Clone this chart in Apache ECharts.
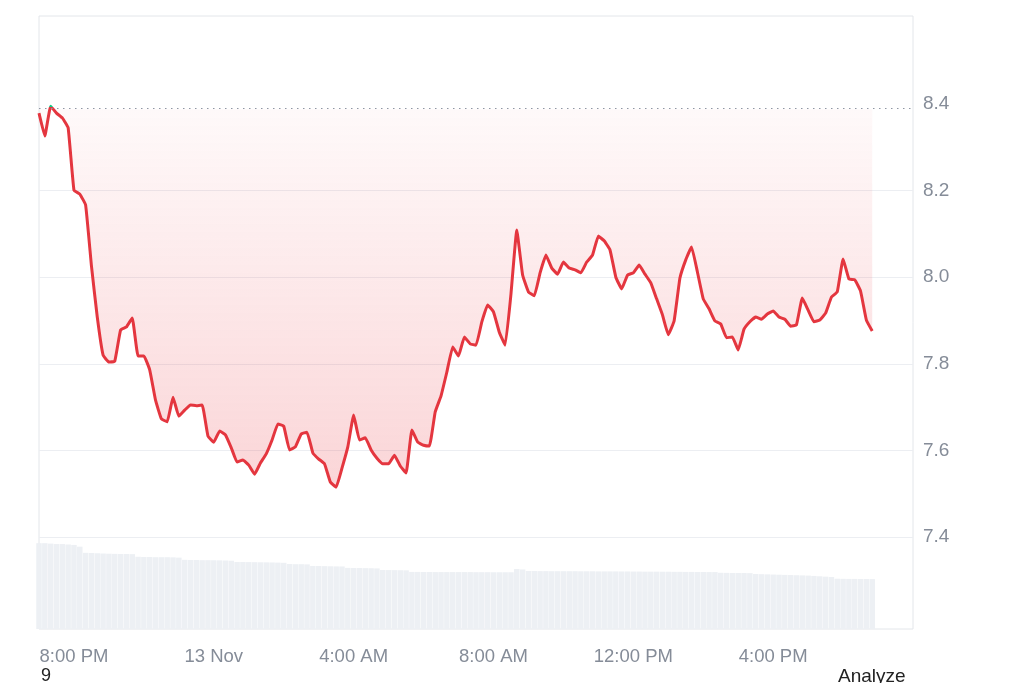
<!DOCTYPE html>
<html>
<head>
<meta charset="utf-8">
<title>Price chart</title>
<script src="https://cdn.jsdelivr.net/npm/echarts@6.0.0/dist/echarts.min.js"></script>
<style>
  html, body { margin: 0; padding: 0; background: #fff; }
  #chart { width: 1024px; height: 683px; }
</style>
</head>
<body>
<div id="chart"></div>
<script>
// 10 minute slots, 12 Nov 7:00 PM -> 13 Nov 8:00 PM
const startMinute = 19 * 60;
const stepMinutes = 10;
const slotCount = 151;

const categories = [];
for (let i = 0; i < slotCount; i++) {
  const m = startMinute + i * stepMinutes;
  const day = 12 + Math.floor(m / 1440);
  const hh = Math.floor((m % 1440) / 60);
  const mm = m % 60;
  categories.push(day + " Nov " + String(hh).padStart(2, "0") + ":" + String(mm).padStart(2, "0"));
}

const openPrice = 8.388;

const price = [
  8.379, 8.326, 8.395, 8.379, 8.368, 8.345, 8.201, 8.192, 8.167, 8.026,
  7.908, 7.820, 7.804, 7.806, 7.878, 7.885, 7.906, 7.818, 7.818, 7.786,
  7.716, 7.673, 7.666, 7.723, 7.679, 7.693, 7.705, 7.703, 7.705, 7.633,
  7.619, 7.645, 7.636, 7.606, 7.573, 7.578, 7.566, 7.545, 7.571, 7.592,
  7.624, 7.661, 7.656, 7.601, 7.608, 7.638, 7.642, 7.594, 7.580, 7.569,
  7.527, 7.515, 7.559, 7.608, 7.682, 7.624, 7.629, 7.601, 7.582, 7.569,
  7.569, 7.589, 7.564, 7.548, 7.647, 7.619, 7.612, 7.610, 7.689, 7.726,
  7.781, 7.839, 7.818, 7.862, 7.846, 7.843, 7.897, 7.936, 7.920, 7.873,
  7.843, 7.961, 8.109, 8.005, 7.966, 7.957, 8.010, 8.051, 8.021, 8.007,
  8.035, 8.021, 8.017, 8.010, 8.035, 8.051, 8.095, 8.084, 8.063, 8.000,
  7.973, 8.005, 8.010, 8.028, 8.007, 7.987, 7.950, 7.913, 7.867, 7.899,
  7.998, 8.040, 8.070, 8.012, 7.950, 7.927, 7.899, 7.892, 7.860, 7.862,
  7.832, 7.880, 7.897, 7.908, 7.903, 7.915, 7.922, 7.908, 7.903, 7.887,
  7.890, 7.952, 7.924, 7.897, 7.901, 7.917, 7.954, 7.966, 8.042, 7.996,
  7.994, 7.968, 7.901, 7.876
];

const volume = [
  98, 98, 97.5, 97, 97, 96.5, 96, 94, 87,
  86.8, 86.5, 86.2, 86, 85.8, 85.6, 85.6, 85.5,
  82.5, 82.2, 82.2, 82, 82, 82, 81.8, 81.5,
  79, 78.8, 78.8, 78.6, 78.6, 78.5, 78.4, 78.2, 78,
  76.5, 76.5, 76.4, 76.3, 76.2, 76.1, 76, 75.8, 75.6,
  74.2, 74, 74, 73.8,
  72, 71.9, 71.8, 71.6, 71.5, 71.4,
  69.8, 69.7, 69.6, 69.5, 69.4, 69.2,
  67.4, 67.3, 67.2, 67.1, 67,
  65.2, 65.2, 65.1, 65.1, 65, 65, 65, 65, 65, 65, 65, 64.9, 64.9, 64.9, 64.8, 64.8, 64.8, 64.8,
  68.5, 68,
  66.2, 66.2, 66.1, 66.1, 66, 66, 66, 66, 66, 65.9, 65.9, 65.9, 65.8, 65.8, 65.8,
  65.8, 65.7, 65.7, 65.6, 65.6, 65.5, 65.5, 65.5, 65.4, 65.4, 65.3, 65.3, 65.2, 65.2, 65.1, 65.1, 65, 65,
  64.2, 64.1, 64, 64, 63.9, 63.8,
  62.8, 62.6, 62.4, 62.2, 62, 61.8, 61.6, 61.4, 61.2, 61, 60.6, 60.2, 59.8, 59.4,
  57.4, 57.3, 57.2, 57.2, 57.1, 57.1, 57
];

const priceTicks = { min: 7.4, max: 8.4, step: 0.2 };

const labelFont = "Liberation Sans, Arial, sans-serif";
const gray = "#858c98";
const red = "#e4363f";
const green = "#16c784";

// gap between price and the open line, stacked on top of price -> fills to the dotted line
const gapToOpen = price.map((v) => +(openPrice - v).toFixed(4));

// where the open line sits inside the line's bounding box (green above, red below)
const hi = Math.max(...price);
const lo = Math.min(...price);
const cut = (hi - openPrice) / (hi - lo);

function tickLabel(cat) {
  const parts = cat.split(" ");
  const hm = parts[2].split(":");
  const h = +hm[0];
  if (h === 0) return parts[0] + " " + parts[1];
  const h12 = h % 12 === 0 ? 12 : h % 12;
  return h12 + ":" + hm[1] + (h < 12 ? " AM" : " PM");
}

function isTick(index) {
  if (index >= slotCount - 1) return false;
  const hm = categories[index].split(" ")[2].split(":");
  return +hm[1] === 0 && +hm[0] % 4 === 0;
}

const chart = echarts.init(document.getElementById("chart"));
chart.setOption({
  animation: false,
  grid: [
    // price area
    { left: 39, right: 111, top: 104, height: 433 },
    // frame + volume
    {
      left: 39, right: 111, top: 16, bottom: 54,
      show: true, borderColor: "#e3e6ea", borderWidth: 1, backgroundColor: "transparent"
    }
  ],
  xAxis: [
    {
      gridIndex: 0, type: "category", data: categories, boundaryGap: false,
      axisLine: { show: false }, axisTick: { show: false }, axisLabel: { show: false }
    },
    {
      gridIndex: 1, type: "category", data: categories, boundaryGap: false,
      axisLine: { show: false }, axisTick: { show: false },
      axisLabel: {
        interval: isTick,
        formatter: tickLabel,
        color: gray, fontSize: 18.5, fontFamily: labelFont, margin: 18
      }
    }
  ],
  yAxis: [
    {
      gridIndex: 0, type: "value", position: "right",
      min: priceTicks.min, max: priceTicks.max, interval: priceTicks.step,
      axisLine: { show: false }, axisTick: { show: false },
      axisLabel: {
        formatter: (v) => v.toFixed(1),
        color: gray, fontSize: 19, fontFamily: labelFont, margin: 10
      },
      splitLine: {
        lineStyle: {
          // no line on the top tick (8.4)
          color: ["#eceef2", "#eceef2", "#eceef2", "#eceef2", "#eceef2", "rgba(0,0,0,0)"]
        }
      }
    },
    {
      gridIndex: 1, type: "value", min: 0, max: 700, show: false,
      splitLine: { show: false }
    }
  ],
  series: [
    {
      name: "price",
      type: "line",
      xAxisIndex: 0,
      yAxisIndex: 0,
      stack: "open",
      stackStrategy: "all",
      data: price,
      showSymbol: false,
      symbol: "none",
      smooth: 0.1,
      lineStyle: {
        width: 3,
        color: {
          type: "linear", x: 0, y: 0, x2: 0, y2: 1,
          colorStops: [
            { offset: 0, color: green },
            { offset: cut, color: green },
            { offset: cut, color: red },
            { offset: 1, color: red }
          ]
        }
      },
      markLine: {
        silent: true,
        symbol: "none",
        label: { show: false },
        lineStyle: { color: "#8f96a3", type: [1.5, 4.5], width: 1.2 },
        data: [{ yAxis: openPrice }]
      },
      z: 4
    },
    {
      name: "fill",
      type: "line",
      xAxisIndex: 0,
      yAxisIndex: 0,
      stack: "open",
      stackStrategy: "all",
      data: gapToOpen,
      showSymbol: false,
      symbol: "none",
      smooth: 0.1,
      lineStyle: { width: 0, opacity: 0 },
      areaStyle: {
        color: {
          type: "linear", x: 0, y: 0, x2: 0, y2: 1,
          colorStops: [
            { offset: 0, color: "rgba(234,57,67,0.04)" },
            { offset: 1, color: "rgba(234,57,67,0.3)" }
          ]
        }
      },
      z: 3
    },
    {
      name: "volume",
      type: "bar",
      xAxisIndex: 1,
      yAxisIndex: 1,
      data: volume,
      clip: true,
      barCategoryGap: "6%",
      itemStyle: { color: "#edf0f4" },
      z: 1
    }
  ],
  graphic: [
    {
      type: "text", left: 41, top: 667,
      style: { text: "9", fill: "#222", font: "18px " + labelFont }
    },
    {
      type: "text", left: 838, top: 667,
      style: { text: "Analyze", fill: "#222", font: "19px " + labelFont }
    }
  ]
});
</script>
</body>
</html>
